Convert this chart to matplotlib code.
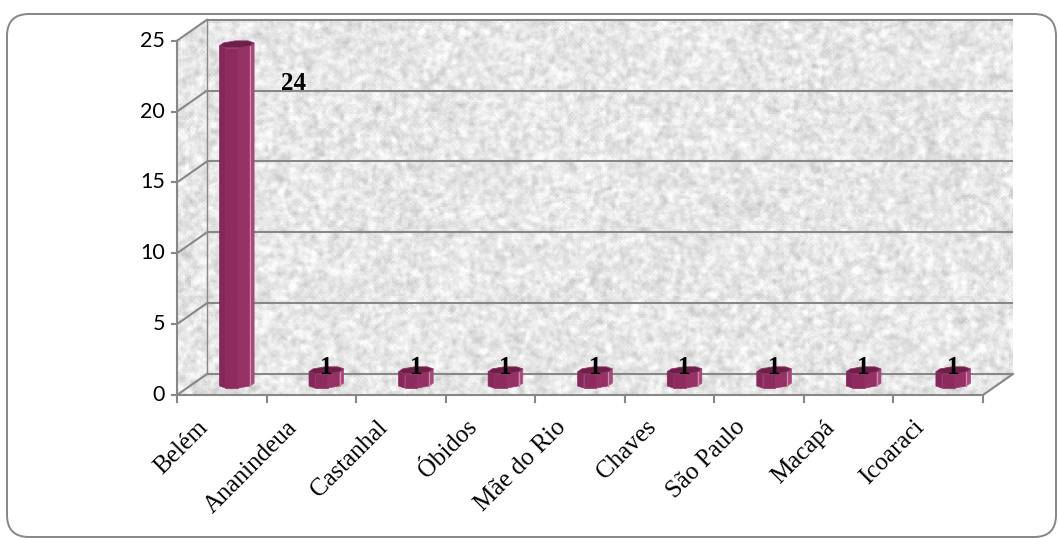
import numpy as np
import matplotlib
matplotlib.use("Agg")
import matplotlib.pyplot as plt
from matplotlib.patches import Polygon, FancyBboxPatch
from matplotlib.transforms import offset_copy

# ---------------- data ----------------
categories = ["Belém", "Ananindeua", "Castanhal", "Óbidos", "Mãe do Rio",
              "Chaves", "São Paulo", "Macapá", "Icoaraci"]
values = [24, 1, 1, 1, 1, 1, 1, 1, 1]
yticks = [0, 5, 10, 15, 20, 25]

# label placement (style): pixel offsets from the bar-top centre
label_dx_px = [57, 0, 0, 0, 0, 0, 0, 0, 0]
label_dy_px = [-46, -4, -4, -4, -4, -4, -4, -4, -4]

# ---------------- figure ----------------
W, H = 1058, 538
fig = plt.figure(figsize=(W / 100, H / 100), dpi=100)
fig.patch.set_facecolor("white")

fa = fig.add_axes([0, 0, 1, 1])
fa.set_xlim(0, W)
fa.set_ylim(H, 0)
fa.axis("off")
fa.add_patch(FancyBboxPatch((7, 14), 1049, 523,
                            boxstyle="round,pad=0,rounding_size=22",
                            fill=False, ec="#868686", lw=1.4))

# plot geometry (front plane in pixels, depth vector in pixels)
FX0, FX1 = 177, 983
FY0, FYT = 395, 40.7
DXp, DYp = 30, 21
n = len(categories)
ymax = yticks[-1]
xpp = n / (FX1 - FX0)
ypp = ymax / (FY0 - FYT)
DX = DXp * xpp
DY = DYp * ypp

ax = fig.add_axes([FX0 / W, (H - FY0) / H, (FX1 + DXp - FX0) / W,
                   (FY0 - FYT + DYp) / H])
ax.set_xlim(-0.5, n - 0.5 + DX)
ax.set_ylim(0, ymax + DY)
ax.axis("off")

# ---------------- textured walls (background decoration) ----------------
rng = np.random.default_rng(7)


def blur(a, it):
    for _ in range(it):
        a = (a + np.roll(a, 1, 0) + np.roll(a, -1, 0)
             + np.roll(a, 1, 1) + np.roll(a, -1, 1)) / 5.0
    return a


coarse = blur(rng.normal(size=(190, 420)), 2)
coarse = np.kron(coarse, np.ones((2, 2)))
fine = blur(rng.normal(size=coarse.shape), 1)
tex = coarse / coarse.std() + 0.5 * fine / fine.std()
tex = (tex - tex.mean()) / tex.std()
tex = np.clip(0.905 + 0.04 * tex, 0.76, 0.99)
x0, x1 = -0.5, n - 0.5
walls = Polygon([(x0, 0), (x1, 0), (x1 + DX, DY), (x1 + DX, ymax + DY),
                 (x0 + DX, ymax + DY), (x0, ymax)], closed=True,
                fc="none", ec="none", transform=ax.transData)
ax.add_patch(walls)
im = ax.imshow(tex, cmap="gray", vmin=0, vmax=1, aspect="auto",
               extent=(x0, x1 + DX, 0, ymax + DY), interpolation="bilinear",
               zorder=0)
im.set_clip_path(walls)
ax.set_xlim(-0.5, n - 0.5 + DX)
ax.set_ylim(0, ymax + DY)

gc = "#878787"
glw = 1.5
for v in yticks:
    ax.plot([x0 + DX, x1 + DX], [v + DY, v + DY], color=gc, lw=glw, zorder=1,
            clip_on=False, solid_capstyle="butt")
    ax.plot([x0, x0 + DX], [v, v + DY], color=gc, lw=glw, zorder=1, clip_on=False)
ax.plot([x0 + DX, x0 + DX], [DY, ymax + DY], color=gc, lw=1.0, zorder=1, clip_on=False)
ax.plot([x0, x0], [0, ymax], color=gc, lw=glw, zorder=1, clip_on=False)
ax.plot([x0, x1], [0, 0], color=gc, lw=glw, zorder=1, clip_on=False)
ax.plot([x1, x1 + DX], [0, DY], color=gc, lw=glw, zorder=1, clip_on=False)

# ticks
for v in yticks:
    ax.plot([x0 - 5 * xpp, x0], [v, v], color=gc, lw=glw, clip_on=False)
    ax.text(x0 - 12 * xpp, v, str(v), ha="right", va="center",
            fontsize=15.5, family="Lato", color="black")
for k in range(n + 1):
    ax.plot([k - 0.5, k - 0.5], [0, -7 * ypp], color=gc, lw=glw, clip_on=False)

for i, c in enumerate(categories):
    ax.text(i - 17 * xpp, -29 * ypp, c, rotation=45, rotation_mode="anchor",
            ha="right", va="center", fontsize=18, family="Liberation Serif",
            color="black")

# ---------------- octagonal bars ----------------
cz = 0.5
rz = 0.18
rx = 16.5 * xpp
face_col = {-135: "#85275a", -90: "#8d2b5f", -45: "#963165", 0: "#a6477a"}
top_col = "#6e1f49"
angles = np.deg2rad(22.5 + 45 * np.arange(8))


def proj(i, th, h):
    z = cz + rz * np.sin(th)
    return (i + rx * np.cos(th) + z * DX, h + z * DY)


for i, v in enumerate(values):
    for k in range(8):
        t0 = angles[k]
        t1 = angles[(k + 1) % 8]
        phi = int(round((np.rad2deg(t0) + 22.5))) % 360
        phi = phi - 360 if phi > 180 else phi
        if phi not in face_col:
            continue
        b0 = proj(i, t0, 0)
        b1 = proj(i, t1, 0)
        u1 = proj(i, t1, v)
        u0 = proj(i, t0, v)
        ax.add_patch(Polygon([b0, b1, u1, u0], closed=True, fc=face_col[phi],
                             ec=face_col[phi], lw=0.5, zorder=3, clip_on=False))
        if phi == 0:
            ax.plot([b0[0], u0[0]], [b0[1], u0[1]], color="#d08aae", lw=0.9,
                    zorder=4, clip_on=False)
    top = [proj(i, t, v) for t in angles]
    ax.add_patch(Polygon(top, closed=True, fc=top_col, ec="#8a3563", lw=0.6,
                         zorder=5, clip_on=False))

# data labels
for i, v in enumerate(values):
    cx, cy = i + cz * DX, v + cz * DY
    tr = offset_copy(ax.transData, fig=fig, x=label_dx_px[i] * 0.72,
                     y=label_dy_px[i] * 0.72, units="points")
    ax.text(cx, cy, str(v), transform=tr, ha="center", va="baseline",
            fontsize=18, fontweight="bold", family="Liberation Serif",
            color="black", zorder=6)

fig.savefig("out.png", dpi=100, facecolor="white")
